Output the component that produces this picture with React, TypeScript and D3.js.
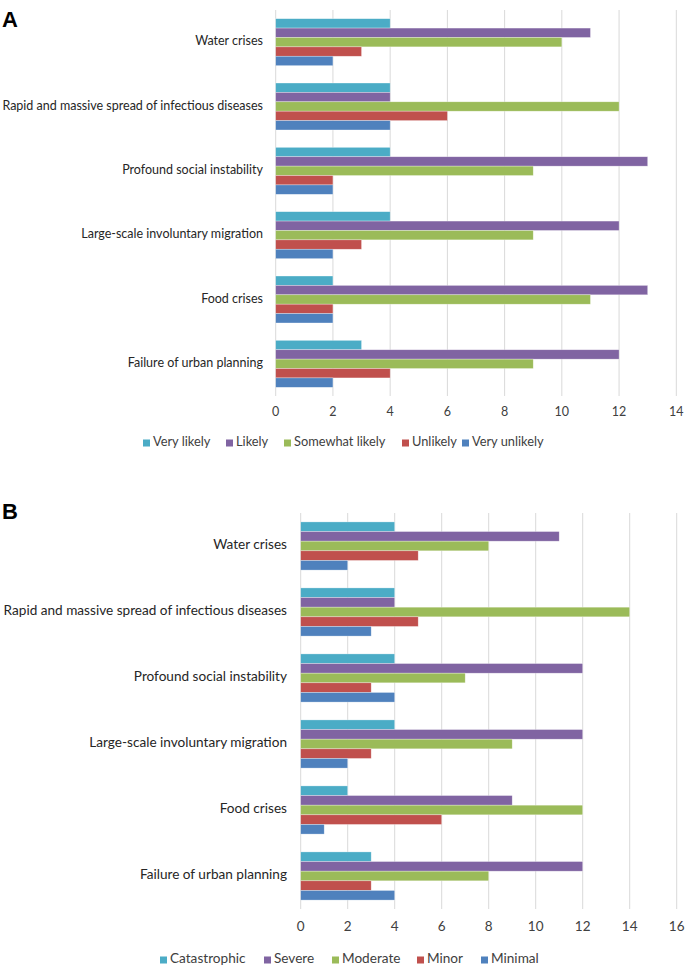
import React from "react";
import * as d3 from "d3";

const categories = [
  "Water crises",
  "Rapid and massive spread of infectious diseases",
  "Profound social instability",
  "Large-scale involuntary migration",
  "Food crises",
  "Failure of urban planning",
];

const seriesA = ["Very likely", "Likely", "Somewhat likely", "Unlikely", "Very unlikely"];
const veryLikely = [4, 4, 4, 4, 2, 3];
const likely = [11, 4, 13, 12, 13, 12];
const somewhatLikely = [10, 12, 9, 9, 11, 9];
const unlikely = [3, 6, 2, 3, 2, 4];
const veryUnlikely = [2, 4, 2, 2, 2, 2];

const seriesB = ["Catastrophic", "Severe", "Moderate", "Minor", "Minimal"];
const catastrophic = [4, 4, 4, 4, 2, 3];
const severe = [11, 4, 12, 12, 9, 12];
const moderate = [8, 14, 7, 9, 12, 8];
const minor = [5, 5, 3, 3, 6, 3];
const minimal = [2, 3, 4, 2, 1, 4];

const ticksA = [0, 2, 4, 6, 8, 10, 12, 14];
const ticksB = [0, 2, 4, 6, 8, 10, 12, 14, 16];

const colors = ["#4bacc6", "#8064a2", "#9bbb59", "#c0504d", "#4f81bd"];

const FONT = "Lato, 'Open Sans', sans-serif";

type PanelProps = {
  title: string;
  titleY: number;
  series: string[];
  values: number[][];
  ticks: number[];
  x0: number;
  x1: number;
  y0: number;
  y1: number;
  labelX: number;
  labelSize: number;
  tickY: number;
  tickSize: number;
  legendY: number;
  legendX: number[];
  legendSize: number;
};

function Panel(p: PanelProps) {
  const x = d3.scaleLinear().domain([p.ticks[0], p.ticks[p.ticks.length - 1]]).range([p.x0, p.x1]);
  const y = d3.scaleBand<string>().domain(categories).range([p.y0, p.y1]).paddingInner(0.27).paddingOuter(0.135);
  const inner = d3.scaleBand<string>().domain(p.series).range([0, y.bandwidth()]);
  return (
    <g>
      <text x={2} y={p.titleY} fontFamily="Arial, 'Liberation Sans', sans-serif" fontWeight="bold" fontSize={22} fill="#000">
        {p.title}
      </text>
      {p.ticks.map((t) => (
        <g key={t}>
          <line x1={x(t)} x2={x(t)} y1={p.y0} y2={p.y1} stroke="#d9d9d9" strokeWidth={1} />
          <text x={x(t)} y={p.tickY} textAnchor="middle" dominantBaseline="middle" fontFamily={FONT} fontSize={p.tickSize} fill="#404040">
            {t}
          </text>
        </g>
      ))}
      {categories.map((c, ci) => (
        <g key={c}>
          <text
            x={p.labelX}
            y={(y(c) as number) + y.bandwidth() / 2}
            textAnchor="end"
            dominantBaseline="middle"
            fontFamily={FONT}
            fontSize={p.labelSize}
            fill="#262626"
          >
            {c}
          </text>
          {p.series.map((s, si) => (
            <rect
              key={s}
              x={x(0)}
              y={(y(c) as number) + (inner(s) as number)}
              width={x(p.values[si][ci]) - x(0)}
              height={inner.bandwidth()}
              fill={colors[si]}
              stroke="#ffffff"
              strokeOpacity={0.5}
              strokeWidth={0.6}
            />
          ))}
        </g>
      ))}
      {p.series.map((s, si) => (
        <g key={s}>
          <rect x={p.legendX[si]} y={p.legendY - 3.5} width={7} height={7} fill={colors[si]} />
          <text x={p.legendX[si] + 10} y={p.legendY} dominantBaseline="middle" fontFamily={FONT} fontSize={p.legendSize} fill="#404040">
            {s}
          </text>
        </g>
      ))}
    </g>
  );
}

export default function App() {
  return (
    <svg width={685} height={969} style={{ position: "absolute", left: 0, top: 0, background: "#fff" }}>
      <rect width={685} height={969} fill="#fff" />
      <Panel
        title="A"
        titleY={27}
        series={seriesA}
        values={[veryLikely, likely, somewhatLikely, unlikely, veryUnlikely]}
        ticks={ticksA}
        x0={275.7}
        x1={676.3}
        y0={10}
        y1={396}
        labelX={263}
        labelSize={12.5}
        tickY={413}
        tickSize={12.5}
        legendY={443}
        legendX={[143, 226, 284, 402, 462]}
        legendSize={12.8}
      />
      <Panel
        title="B"
        titleY={519}
        series={seriesB}
        values={[catastrophic, severe, moderate, minor, minimal]}
        ticks={ticksB}
        x0={300.7}
        x1={676.7}
        y0={513}
        y1={909}
        labelX={287}
        labelSize={13.6}
        tickY={928}
        tickSize={13.5}
        legendY={960}
        legendX={[160, 264, 332, 417, 481]}
        legendSize={13.6}
      />
    </svg>
  );
}
